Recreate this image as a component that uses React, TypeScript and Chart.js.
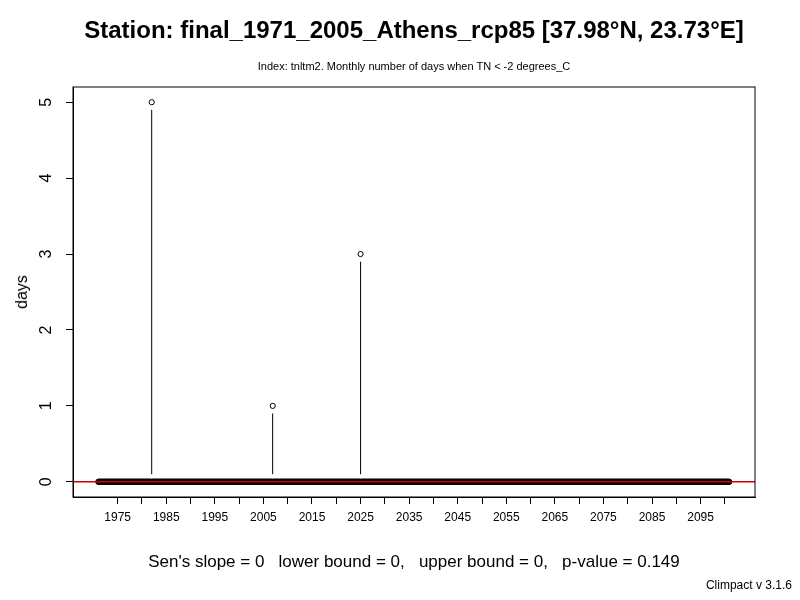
import React, { useEffect, useRef } from 'react';
import Chart from 'chart.js/auto';

// monthly series 1971-2100, zero except for a few months
const startYear = 1971;
const endYear = 2100;
const spikeTimes = [1982.0, 2006.9, 2025.0];
const spikeValues = [5, 1, 3];
const yTicks = [0, 1, 2, 3, 4, 5];
const xTicks = [1975, 1980, 1985, 1990, 1995, 2000, 2005, 2010, 2015, 2020, 2025, 2030, 2035, 2040, 2045, 2050, 2055, 2060, 2065, 2070, 2075, 2080, 2085, 2090, 2095, 2100];
const xLabels = [1975, 1985, 1995, 2005, 2015, 2025, 2035, 2045, 2055, 2065, 2075, 2085, 2095];

const FONT = '"Liberation Sans", Arial, sans-serif';

const App: React.FC = () => {
  const chartRef = useRef<HTMLCanvasElement>(null);

  useEffect(() => {
    if (!chartRef.current) return;
    const points: { x: number; y: number }[] = [];
    for (let i = 0; i < (endYear - startYear + 1) * 12; i++) {
      const t = startYear + i / 12;
      let v = 0;
      spikeTimes.forEach((s, k) => {
        if (Math.abs(s - t) < 1 / 24) v = spikeValues[k];
      });
      points.push({ x: t, y: v });
    }
    const stems: ({ x: number; y: number | null })[] = [];
    spikeTimes.forEach((s, k) => {
      stems.push({ x: s, y: 0.1 }, { x: s, y: spikeValues[k] - 0.1 }, { x: s, y: null });
    });

    const frame = {
      id: 'frame',
      afterDraw(chart: any) {
        const { ctx, chartArea: a, scales } = chart;
        ctx.save();
        ctx.strokeStyle = '#000';
        ctx.lineWidth = 1;
        ctx.strokeRect(a.left, a.top, a.right - a.left, a.bottom - a.top);
        ctx.fillStyle = '#000';
        ctx.font = `16px ${FONT}`;
        ctx.textAlign = 'center';
        ctx.textBaseline = 'middle';
        yTicks.forEach((v) => {
          const y = scales.y.getPixelForValue(v);
          ctx.save();
          ctx.translate(47, y);
          ctx.rotate(-Math.PI / 2);
          ctx.fillText(String(v), 0, 0);
          ctx.restore();
        });
        ctx.restore();
      },
    };

    const chart = new Chart(chartRef.current, {
      type: 'line',
      data: {
        datasets: [
          {
            data: stems,
            borderColor: '#000',
            borderWidth: 1,
            pointRadius: 0,
            spanGaps: false,
            order: 3,
          },
          {
            data: points,
            showLine: false,
            pointRadius: 2.6,
            pointBorderWidth: 1,
            pointBorderColor: '#000',
            pointBackgroundColor: 'rgba(0,0,0,0)',
            order: 2,
          },
          {
            data: [{ x: 1960, y: 0 }, { x: 2110, y: 0 }],
            borderColor: '#cc0000',
            borderWidth: 1.5,
            pointRadius: 0,
            order: 1,
          },
        ],
      },
      plugins: [frame],
      options: {
        animation: false,
        responsive: false,
        layout: { padding: { left: 0, top: 87, right: 45, bottom: 0 } },
        plugins: { legend: { display: false }, tooltip: { enabled: false } },
        scales: {
          x: {
            type: 'linear',
            min: 1965.8,
            max: 2106.2,
            afterBuildTicks: (s: any) => {
              s.ticks = xTicks.map((v) => ({ value: v }));
            },
            afterFit: (s: any) => {
              s.height = 103;
            },
            ticks: {
              autoSkip: false,
              maxRotation: 0,
              padding: 6,
              color: '#000',
              font: { family: FONT, size: 12 },
              callback: (v: any) => (xLabels.includes(v) ? String(v) : ''),
            },
            grid: { drawOnChartArea: false, tickLength: 7, color: '#000' },
            border: { color: '#000' },
          },
          y: {
            min: -0.2,
            max: 5.2,
            afterBuildTicks: (s: any) => {
              s.ticks = yTicks.map((v) => ({ value: v }));
            },
            afterFit: (s: any) => {
              s.width = 73;
            },
            ticks: { callback: () => '', padding: 0 },
            grid: { drawOnChartArea: false, tickLength: 7, color: '#000' },
            border: { color: '#000' },
          },
        },
      },
    });
    return () => chart.destroy();
  }, []);

  const abs = (style: React.CSSProperties): React.CSSProperties => ({
    position: 'absolute',
    fontFamily: FONT,
    color: '#000',
    whiteSpace: 'nowrap',
    lineHeight: 1,
    ...style,
  });

  return (
    <div style={{ position: 'absolute', left: 0, top: 0, width: 800, height: 600, background: '#fff' }}>
      <canvas ref={chartRef} width={800} height={600} />
      <div style={abs({ left: 414, top: 30, transform: 'translate(-50%,-50%)', fontSize: 24, fontWeight: 'bold' })}>
        Station: final_1971_2005_Athens_rcp85 [37.98°N, 23.73°E]
      </div>
      <div style={abs({ left: 414, top: 66, transform: 'translate(-50%,-50%)', fontSize: 11 })}>
        Index: tnltm2. Monthly number of days when TN &lt; -2 degrees_C
      </div>
      <div style={abs({ left: 22, top: 292, transform: 'translate(-50%,-50%) rotate(-90deg)', fontSize: 16 })}>
        days
      </div>
      <div style={abs({ left: 414, top: 561, transform: 'translate(-50%,-50%)', fontSize: 17 })}>
        Sen's slope = 0&nbsp;&nbsp; lower bound = 0,&nbsp;&nbsp; upper bound = 0,&nbsp;&nbsp; p-value = 0.149
      </div>
      <div style={abs({ right: 8, top: 585, transform: 'translateY(-50%)', fontSize: 12 })}>
        Climpact v 3.1.6
      </div>
    </div>
  );
};

export default App;
